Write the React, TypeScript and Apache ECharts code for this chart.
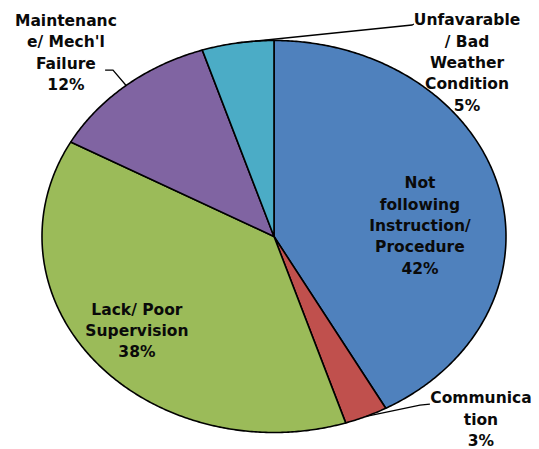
import React, { useEffect, useRef } from "react";
import * as echarts from "echarts";

// ---- data ----
const categories: string[] = [
  "Not\nfollowing\nInstruction/\nProcedure",
  "Communica\ntion",
  "Lack/ Poor\nSupervision",
  "Maintenanc\ne/ Mech'l\nFailure",
  "Unfavarable\n/ Bad\nWeather\nCondition",
];
const shares: number[] = [42, 3, 38, 12, 5];

// ---- styles / layout ----
const colors = ["#4F81BD", "#C0504D", "#9BBB59", "#8064A2", "#4BACC6"];
const W = 539;
const H = 449;
const CX = 274;
const CY = 236.5;
const RX = 232;
const RY = 196;
// label centres relative to the pie centre, in units of the radii
const labelPos: [number, number][] = [
  [0.629, -0.054],
  [0.892, 0.935],
  [-0.591, 0.482],
  [-0.897, -0.936],
  [0.832, -0.885],
];
// leader lines (elbow, end) in radius units; null = inside label
const leaders: ([number, number][] | null)[] = [
  null,
  [
    [0.629, 0.86],
    [0.672, 0.855],
  ],
  null,
  [
    [-0.694, -0.849],
    [-0.728, -0.849],
  ],
  [
    [0.595, -1.079],
    [0.603, -1.084],
  ],
];

const total = shares.reduce((a, b) => a + b, 0);
const cumStart: number[] = [];
shares.reduce((acc, v, i) => {
  cumStart[i] = acc;
  return acc + v;
}, 0);

const pt = (t: number, k = 1): [number, number] => [
  CX + RX * k * Math.sin(t),
  CY - RY * k * Math.cos(t),
];
const rel = (p: [number, number]): [number, number] => [CX + p[0] * RX, CY + p[1] * RY];

export default function App() {
  const ref = useRef<HTMLDivElement>(null);
  useEffect(() => {
    if (!ref.current) return;
    const chart = echarts.init(ref.current, undefined, { renderer: "svg" });
    chart.setOption({
      animation: false,
      backgroundColor: "#ffffff",
      series: [
        {
          type: "custom",
          coordinateSystem: "none",
          data: shares.map((v, i) => ({ name: categories[i], value: v })),
          renderItem: (params: any, api: any) => {
            const i = params.dataIndex;
            const v = api.value(0) as number;
            const a0 = (cumStart[i] / total) * Math.PI * 2;
            const a1 = ((cumStart[i] + v) / total) * Math.PI * 2;
            const n = Math.max(4, Math.ceil(((a1 - a0) / (Math.PI * 2)) * 720));
            const pts: [number, number][] = [[CX, CY]];
            for (let k = 0; k <= n; k++) pts.push(pt(a0 + ((a1 - a0) * k) / n));
            const children: any[] = [
              {
                type: "polygon",
                shape: { points: pts },
                style: {
                  fill: colors[i],
                  stroke: "#000000",
                  lineWidth: 1.6,
                  lineJoin: "round",
                },
              },
            ];
            const lp = rel(labelPos[i]);
            const pct = Math.round((v / total) * 100) + "%";
            const ld = leaders[i];
            if (ld) {
              const mid = pt((a0 + a1) / 2);
              children.push({
                type: "polyline",
                shape: { points: [mid, rel(ld[0]), rel(ld[1])] },
                style: { stroke: "#000000", lineWidth: 1.3, fill: "none" },
                z2: 5,
              });
            }
            children.push({
              type: "text",
              x: lp[0],
              y: lp[1],
              z2: 10,
              style: {
                text: categories[i] + "\n" + pct,
                fill: "#0a0a0a",
                fontFamily: "DejaVu Sans",
                fontWeight: "bold",
                fontSize: 15.5,
                lineHeight: 21.3,
                align: "center",
                verticalAlign: "middle",
              },
            });
            return { type: "group", children };
          },
        },
      ],
    });
    return () => chart.dispose();
  }, []);
  return (
    <div
      ref={ref}
      style={{ position: "fixed", left: 0, top: 0, width: W, height: H }}
    />
  );
}
